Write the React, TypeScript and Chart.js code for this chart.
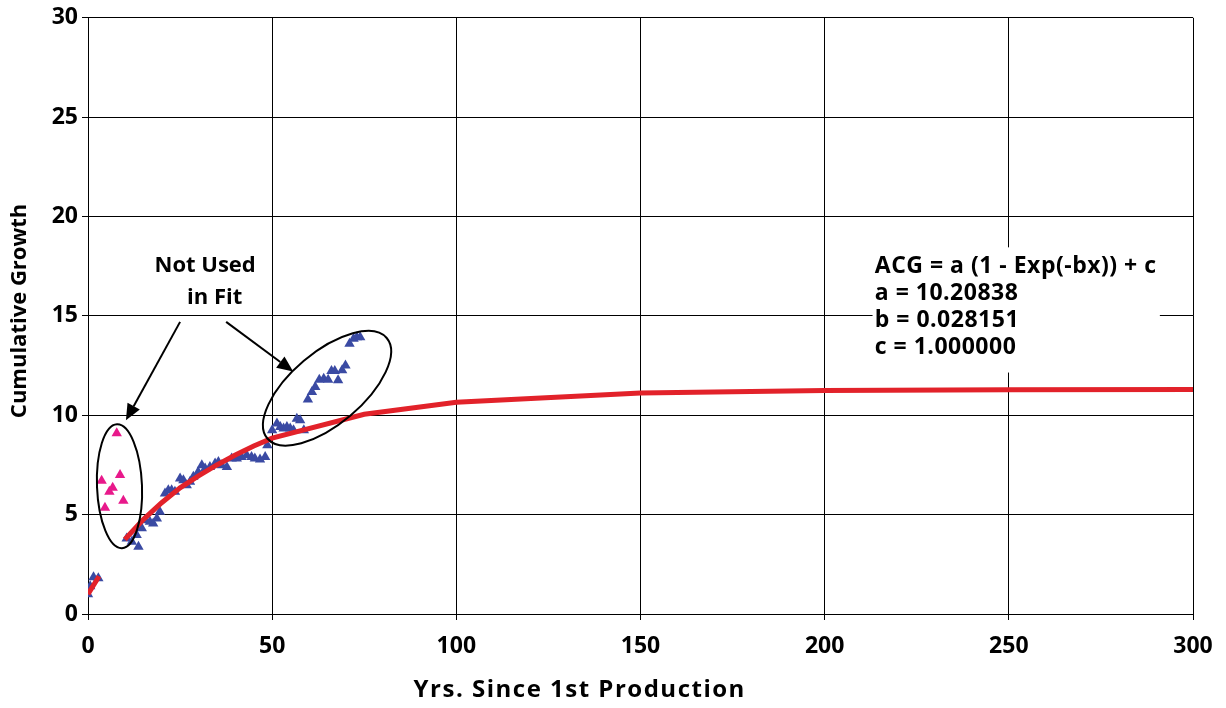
import { useEffect, useRef } from 'react';
import { Chart, registerables } from 'chart.js';

Chart.register(...registerables);

const FONT = '"Open Sans", "DejaVu Sans", sans-serif';

// Axis ticks
const xTicks = [0, 50, 100, 150, 200, 250, 300];
const yTicks = [0, 5, 10, 15, 20, 25, 30];

// Data not used in fit (pink)
const pinkX = [3.7, 4.6, 5.8, 6.7, 7.8, 8.7, 9.6];
const pinkY = [6.7, 5.35, 6.15, 6.35, 9.1, 7.0, 5.7];

// Observed cumulative growth (blue)
const blueX = [
  0, 0.6, 1.5, 2.8,
  10.5, 11.9, 13.7, 13.2, 14.6, 15.5, 16.8, 17.7, 18.7, 19.5,
  20.9, 21.8, 22.7, 23.6, 25, 25.9, 26.8, 27.7, 28.6, 29.9,
  30.9, 31.8, 33.1, 34.5, 35.4, 36.3, 37.7, 39, 40.4, 41.7,
  43.1, 44.4, 45.3, 46.7, 48.1, 48.7,
  50, 51.3, 52.2, 53.1, 54, 54.9, 55.8, 56.7, 57.6, 58.6,
  59.7, 60.8, 61.7, 62.8, 64, 65.2, 66.1, 67, 67.9, 69,
  69.9, 71, 72.1, 73, 73.9,
];
const blueY = [
  1.0, 1.4, 1.85, 1.8,
  3.8, 3.63, 3.38, 3.97, 4.31, 4.72, 4.64, 4.56, 4.81, 5.14,
  6.06, 6.23, 6.23, 6.15, 6.82, 6.73, 6.48, 6.65, 6.9, 7.15,
  7.49, 7.32, 7.4, 7.57, 7.65, 7.49, 7.4, 7.82, 7.82, 7.9,
  7.99, 7.9, 7.82, 7.77, 7.9, 8.49,
  9.25, 9.58, 9.41, 9.33, 9.41, 9.33, 9.25, 9.83, 9.75, 9.25,
  10.79, 11.17, 11.42, 11.79, 11.84, 11.79, 12.23, 12.23, 11.76, 12.26,
  12.51, 13.6, 13.85, 13.93, 13.93,
];

// Fitted curve (red), two segments
const fitEarlyX = [0, 1, 2, 3];
const fitEarlyY = [1.0, 1.3, 1.6, 1.9];
const fitX = [10, 15, 20, 25, 30, 35, 40, 45, 50, 75, 100, 150, 200, 250, 300];
const fitY = [3.75, 4.75, 5.6, 6.35, 6.95, 7.5, 8.0, 8.45, 8.85, 10.05, 10.65, 11.12, 11.25, 11.28, 11.3];

const formulaLines = ['ACG = a (1 - Exp(-bx)) + c', 'a = 10.20838', 'b = 0.028151', 'c = 1.000000'];
const noteLines = ['Not Used', ' in Fit'];
const xTitle = 'Yrs. Since 1st Production';
const yTitle = 'Cumulative Growth';

const BLUE = '#3a4aa3';
const PINK = '#e8198b';
const RED = '#e2222a';

const pts = (xs: number[], ys: number[]) => xs.map((x, i) => ({ x, y: ys[i] }));

function arrow(ctx: CanvasRenderingContext2D, x1: number, y1: number, x2: number, y2: number) {
  const ang = Math.atan2(y2 - y1, x2 - x1);
  const L = 16;
  const W = 7;
  const bx = x2 - Math.cos(ang) * L;
  const by = y2 - Math.sin(ang) * L;
  ctx.beginPath();
  ctx.moveTo(x1, y1);
  ctx.lineTo(bx, by);
  ctx.stroke();
  ctx.beginPath();
  ctx.moveTo(x2, y2);
  ctx.lineTo(bx + Math.sin(ang) * W, by - Math.cos(ang) * W);
  ctx.lineTo(bx - Math.sin(ang) * W, by + Math.cos(ang) * W);
  ctx.closePath();
  ctx.fill();
}

const annotations = {
  id: 'annotations',
  beforeDatasetsDraw(chart: any) {
    const { ctx, scales } = chart;
    const xs = scales.x;
    const ys = scales.y;
    const l = xs.getPixelForValue(213);
    const r = xs.getPixelForValue(291);
    const t = ys.getPixelForValue(18.45);
    const b = ys.getPixelForValue(12.15);
    ctx.save();
    ctx.fillStyle = '#fff';
    ctx.fillRect(l, t, r - l, b - t);
    ctx.restore();
  },
  afterDatasetsDraw(chart: any) {
    const { ctx, scales } = chart;
    const xs = scales.x;
    const ys = scales.y;
    ctx.save();
    ctx.fillStyle = '#000';
    ctx.strokeStyle = '#000';
    ctx.textBaseline = 'middle';
    // formula
    ctx.font = `bold 23px ${FONT}`;
    (ctx as any).letterSpacing = '0.5px';
    ctx.textAlign = 'left';
    const fx = xs.getPixelForValue(213.6);
    formulaLines.forEach((s, i) => {
      ctx.fillText(s, fx, ys.getPixelForValue(17.5) + i * 27);
    });
    (ctx as any).letterSpacing = '0px';
    // note
    ctx.font = `bold 22px ${FONT}`;
    ctx.textAlign = 'center';
    ctx.fillText(noteLines[0], xs.getPixelForValue(31.8), ys.getPixelForValue(17.5));
    ctx.fillText(noteLines[1], xs.getPixelForValue(33.6), ys.getPixelForValue(15.9));
    // arrows
    ctx.lineWidth = 2;
    arrow(ctx, xs.getPixelForValue(25), ys.getPixelForValue(14.7), xs.getPixelForValue(10.3), ys.getPixelForValue(9.75));
    arrow(ctx, xs.getPixelForValue(37.5), ys.getPixelForValue(14.7), xs.getPixelForValue(55.7), ys.getPixelForValue(12.2));
    // ellipses
    ctx.lineWidth = 2;
    ctx.beginPath();
    ctx.ellipse(xs.getPixelForValue(8.55), ys.getPixelForValue(6.43), 22.5, 62, -0.04, 0, Math.PI * 2);
    ctx.stroke();
    ctx.beginPath();
    ctx.ellipse(xs.getPixelForValue(64.9), ys.getPixelForValue(11.36), 78, 36, -0.7, 0, Math.PI * 2);
    ctx.stroke();
    // axis titles
    ctx.font = `bold 24px ${FONT}`;
    (ctx as any).letterSpacing = '1.5px';
    ctx.textAlign = 'center';
    ctx.fillText(xTitle, xs.getPixelForValue(133.5), 690);
    (ctx as any).letterSpacing = '0px';
    ctx.font = `bold 22px ${FONT}`;
    ctx.translate(20, ys.getPixelForValue(15.25));
    ctx.rotate(-Math.PI / 2);
    ctx.fillText(yTitle, 0, 0);
    ctx.restore();
  },
};

export default function App() {
  const ref = useRef<HTMLCanvasElement>(null);
  useEffect(() => {
    if (!ref.current) return;
    const tickFont = { family: FONT, size: 23, weight: 'bold' as const };
    const chart = new Chart(ref.current, {
      type: 'scatter',
      data: {
        datasets: [
          {
            data: pts(fitEarlyX, fitEarlyY),
            showLine: true,
            borderColor: RED,
            borderWidth: 5,
            pointRadius: 0,
            tension: 0,
          },
          {
            data: pts(fitX, fitY),
            showLine: true,
            borderColor: RED,
            borderWidth: 5,
            pointRadius: 0,
            tension: 0,
          },
          {
            data: pts(blueX, blueY),
            pointStyle: 'triangle',
            pointRadius: 6,
            backgroundColor: BLUE,
            borderColor: BLUE,
            borderWidth: 0,
          },
          {
            data: pts(pinkX, pinkY),
            pointStyle: 'triangle',
            pointRadius: 6,
            backgroundColor: PINK,
            borderColor: PINK,
            borderWidth: 0,
          },
        ],
      },
      options: {
        responsive: false,
        animation: false,
        devicePixelRatio: 1,
        layout: { padding: { left: 8, right: 33, top: 17, bottom: 0 } },
        plugins: { legend: { display: false }, tooltip: { enabled: false } },
        scales: {
          x: {
            type: 'linear',
            min: 0,
            max: 300,
            afterFit: (s: any) => {
              s.height = 94;
            },
            afterBuildTicks: (s: any) => {
              s.ticks = xTicks.map((v) => ({ value: v }));
            },
            ticks: { font: tickFont, color: '#000', padding: 13 },
            grid: { color: '#000', lineWidth: 1, tickLength: 6 },
            border: { color: '#000', width: 1 },
          },
          y: {
            type: 'linear',
            min: 0,
            max: 30,
            afterFit: (s: any) => {
              s.width = 80;
            },
            afterBuildTicks: (s: any) => {
              s.ticks = yTicks.map((v) => ({ value: v }));
            },
            ticks: { font: tickFont, color: '#000', padding: 4 },
            grid: { color: '#000', lineWidth: 1, tickLength: 6 },
            border: { color: '#000', width: 1 },
          },
        },
      },
      plugins: [annotations],
    });
    return () => chart.destroy();
  }, []);
  return (
    <div style={{ position: 'absolute', left: 0, top: 0, width: 1226, height: 708, background: '#fff' }}>
      <canvas ref={ref} width={1226} height={708} style={{ width: 1226, height: 708 }} />
    </div>
  );
}
